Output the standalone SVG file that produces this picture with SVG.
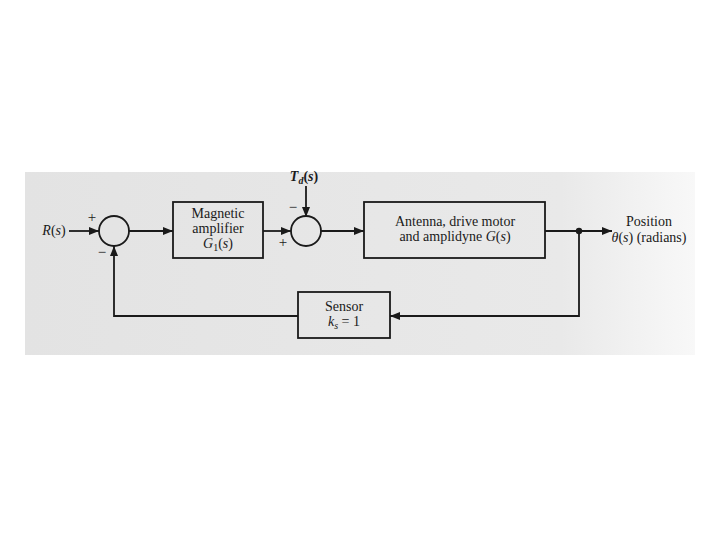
<svg xmlns="http://www.w3.org/2000/svg" width="720" height="540" viewBox="0 0 720 540">
<defs>
<linearGradient id="bg" x1="0" y1="0" x2="1" y2="0">
<stop offset="0" stop-color="#e3e3e3"/>
<stop offset="0.8" stop-color="#e9e9e9"/>
<stop offset="0.93" stop-color="#f3f3f3"/>
<stop offset="1" stop-color="#f8f8f8"/>
</linearGradient>
<marker id="ah" viewBox="0 0 10 8" refX="10" refY="4" markerWidth="10" markerHeight="8" markerUnits="userSpaceOnUse" orient="auto">
<path d="M0,0 L10,4 L0,8 Z" fill="#1a1a1a"/>
</marker>
<style>
.blk{fill:none;stroke:#1a1a1a;stroke-width:1.8}
.sum{fill:none;stroke:#1a1a1a;stroke-width:1.8}
.ln{fill:none;stroke:#1a1a1a;stroke-width:1.8}
.t{font-family:"Liberation Serif","Times New Roman",serif;font-size:14px;fill:#1a1a1a;text-anchor:middle}
.i{font-style:italic}
.s{font-family:"Liberation Serif","Times New Roman",serif;font-size:15px;fill:#1a1a1a;text-anchor:middle}
</style>
</defs>
<rect width="720" height="540" fill="#ffffff"/>
<rect x="25" y="172" width="670" height="183" fill="url(#bg)"/>

<g id="connectors">
<line class="ln" x1="69" y1="231" x2="99" y2="231" marker-end="url(#ah)"/>
<line class="ln" x1="129" y1="231" x2="173" y2="231" marker-end="url(#ah)"/>
<line class="ln" x1="263" y1="231" x2="291" y2="231" marker-end="url(#ah)"/>
<line class="ln" x1="306" y1="186" x2="306" y2="217" marker-end="url(#ah)"/>
<line class="ln" x1="321" y1="231" x2="364" y2="231" marker-end="url(#ah)"/>
<line class="ln" x1="545" y1="231" x2="612" y2="231" marker-end="url(#ah)"/>
<polyline class="ln" points="579,231 579,316 390,316" marker-end="url(#ah)"/>
<polyline class="ln" points="298,316 114,316 114,246" marker-end="url(#ah)"/>
<circle cx="579" cy="231" r="3.2" fill="#1a1a1a"/>
</g>

<g id="input">
<text class="t" x="54" y="235" font-size="15"><tspan class="i">R</tspan>(<tspan class="i">s</tspan>)</text>
</g>

<g id="sum1">
<circle class="sum" cx="114" cy="231" r="15"/>
<text class="s" x="92" y="222">+</text>
<text class="s" x="102" y="257">−</text>
</g>

<g id="amplifier">
<rect class="blk" x="173" y="202" width="90" height="56"/>
<text class="t" x="218" y="218">Magnetic</text>
<text class="t" x="218" y="233">amplifier</text>
<text class="t" x="218" y="248"><tspan class="i">G</tspan><tspan font-size="10" dy="3">1</tspan><tspan dy="-3">(</tspan><tspan class="i">s</tspan>)</text>
</g>

<g id="disturbance">
<text class="t" x="304" y="181" font-weight="bold"><tspan class="i">T</tspan><tspan class="i" font-size="10" dy="3">d</tspan><tspan dy="-3">(</tspan><tspan class="i">s</tspan>)</text>
</g>

<g id="sum2">
<circle class="sum" cx="306" cy="231" r="15"/>
<text class="s" x="293" y="212">−</text>
<text class="s" x="283" y="247">+</text>
</g>

<g id="plant">
<rect class="blk" x="364" y="202" width="181" height="56"/>
<text class="t" x="455" y="226">Antenna, drive motor</text>
<text class="t" x="455" y="241">and amplidyne <tspan class="i">G</tspan>(<tspan class="i">s</tspan>)</text>
</g>

<g id="sensor">
<rect class="blk" x="298" y="292" width="92" height="46"/>
<text class="t" x="344" y="311">Sensor</text>
<text class="t" x="344" y="326"><tspan class="i">k</tspan><tspan class="i" font-size="10" dy="3">s</tspan><tspan dy="-3"> = 1</tspan></text>
</g>

<g id="output">
<text class="t" x="649" y="226" font-size="13.5">Position</text>
<text class="t" x="649" y="242" font-size="13.5"><tspan class="i">θ</tspan>(<tspan class="i">s</tspan>) (radians)</text>
</g>
</svg>
